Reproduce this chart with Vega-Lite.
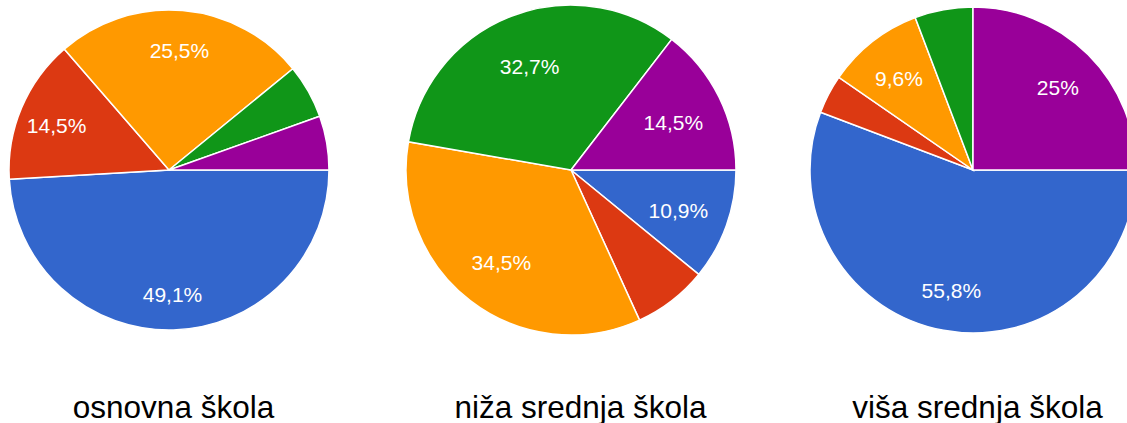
{
  "$schema": "https://vega.github.io/schema/vega-lite/v6.json",
  "width": 1127,
  "height": 340,
  "autosize": {"type": "none"},
  "padding": {"left": 0, "top": 0, "right": 0, "bottom": 83},
  "background": "white",
  "config": {"view": {"stroke": null}},
  "data": {
    "values": [
      {"school": "osnovna škola", "cat": "A", "ord": 1, "count": 27, "label": "49,1%"},
      {"school": "osnovna škola", "cat": "B", "ord": 2, "count": 8, "label": "14,5%"},
      {"school": "osnovna škola", "cat": "C", "ord": 3, "count": 14, "label": "25,5%"},
      {"school": "osnovna škola", "cat": "D", "ord": 4, "count": 3, "label": ""},
      {"school": "osnovna škola", "cat": "E", "ord": 5, "count": 3, "label": ""},
      {"school": "niža srednja škola", "cat": "A", "ord": 1, "count": 6, "label": "10,9%"},
      {"school": "niža srednja škola", "cat": "B", "ord": 2, "count": 4, "label": ""},
      {"school": "niža srednja škola", "cat": "C", "ord": 3, "count": 19, "label": "34,5%"},
      {"school": "niža srednja škola", "cat": "D", "ord": 4, "count": 18, "label": "32,7%"},
      {"school": "niža srednja škola", "cat": "E", "ord": 5, "count": 8, "label": "14,5%"},
      {"school": "viša srednja škola", "cat": "A", "ord": 1, "count": 29, "label": "55,8%"},
      {"school": "viša srednja škola", "cat": "B", "ord": 2, "count": 2, "label": ""},
      {"school": "viša srednja škola", "cat": "C", "ord": 3, "count": 5, "label": "9,6%"},
      {"school": "viša srednja škola", "cat": "D", "ord": 4, "count": 3, "label": ""},
      {"school": "viša srednja škola", "cat": "E", "ord": 5, "count": 13, "label": "25%"}
    ]
  },
  "encoding": {
    "x": {
      "field": "school",
      "type": "nominal",
      "scale": {
        "type": "point",
        "domain": ["osnovna škola", "niža srednja škola", "viša srednja škola"],
        "padding": 0.40174,
        "align": 0.52322
      },
      "axis": {
        "title": null,
        "domain": false,
        "ticks": false,
        "tickSize": 0,
        "grid": false,
        "labelAngle": 0,
        "labelPadding": 77,
        "labelBaseline": "alphabetic",
        "labelFont": "Liberation Sans",
        "labelFontSize": 31.5,
        "labelColor": "#000000",
        "labelLimit": 0,
        "labelOverlap": false,
        "labelFlush": false,
        "labelOffset": {"condition": {"test": "datum.value == 'niža srednja škola'", "value": 9}, "value": 4}
      }
    },
    "theta": {
      "field": "count",
      "type": "quantitative",
      "stack": "normalize",
      "scale": {"range": [1.5707963, 7.8539816]}
    },
    "order": {"field": "ord", "type": "quantitative"}
  },
  "layer": [
    {
      "transform": [{"filter": "datum.school == 'osnovna škola'"}],
      "layer": [
        {
          "mark": {"type": "arc", "outerRadius": 160, "stroke": "white", "strokeWidth": 1.5},
          "encoding": {
            "color": {
              "field": "cat",
              "type": "nominal",
              "scale": {"domain": ["A", "B", "C", "D", "E"], "range": ["#3366CC", "#DC3912", "#FF9900", "#109618", "#990099"]},
              "legend": null
            }
          }
        },
        {
          "mark": {"type": "text", "radius": 122, "dy": 4, "fill": "white", "font": "Liberation Sans", "fontSize": 21},
          "encoding": {"text": {"field": "label", "type": "nominal"}}
        }
      ]
    },
    {
      "transform": [{"filter": "datum.school == 'niža srednja škola'"}],
      "layer": [
        {
          "mark": {"type": "arc", "outerRadius": 165, "stroke": "white", "strokeWidth": 1.5},
          "encoding": {
            "color": {
              "field": "cat",
              "type": "nominal",
              "scale": {"domain": ["A", "B", "C", "D", "E"], "range": ["#3366CC", "#DC3912", "#FF9900", "#109618", "#990099"]},
              "legend": null
            }
          }
        },
        {
          "mark": {"type": "text", "radius": 114, "dy": 4, "fill": "white", "font": "Liberation Sans", "fontSize": 21},
          "encoding": {"text": {"field": "label", "type": "nominal"}}
        }
      ]
    },
    {
      "transform": [{"filter": "datum.school == 'viša srednja škola'"}],
      "layer": [
        {
          "mark": {"type": "arc", "outerRadius": 163, "stroke": "white", "strokeWidth": 1.5},
          "encoding": {
            "color": {
              "field": "cat",
              "type": "nominal",
              "scale": {"domain": ["A", "B", "C", "D", "E"], "range": ["#3366CC", "#DC3912", "#FF9900", "#109618", "#990099"]},
              "legend": null
            }
          }
        },
        {
          "mark": {"type": "text", "radius": 120, "dy": 4, "fill": "white", "font": "Liberation Sans", "fontSize": 21},
          "encoding": {"text": {"field": "label", "type": "nominal"}}
        }
      ]
    }
  ]
}
